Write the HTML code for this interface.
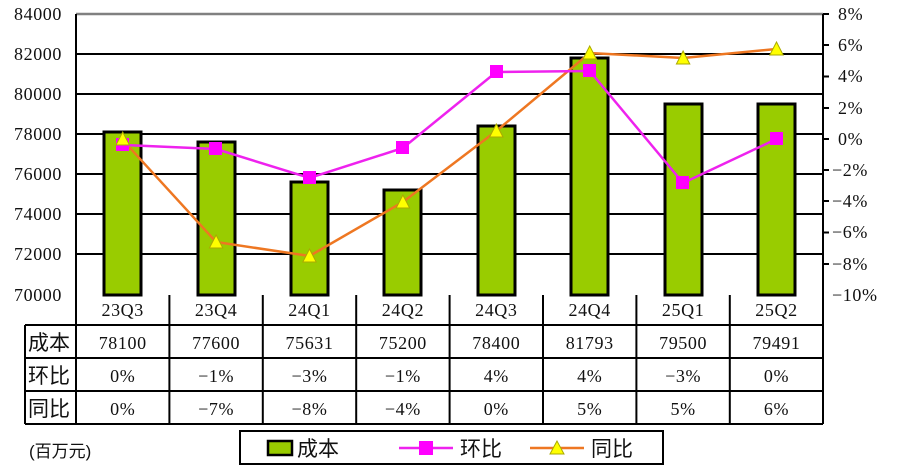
<!DOCTYPE html>
<html><head><meta charset="utf-8"><style>
html,body{margin:0;padding:0;background:#fff}
svg{display:block}
text{font-family:"Liberation Serif","Noto Serif CJK SC",serif;font-size:18px;letter-spacing:0.6px;fill:#111}
.cj{font-family:"Liberation Sans","Noto Sans CJK SC",sans-serif;font-size:21px;letter-spacing:0}
</style></head><body>
<svg width="900" height="474" viewBox="0 0 900 474" xmlns="http://www.w3.org/2000/svg">
<g stroke="#000" stroke-width="2">
<line x1="76" y1="54" x2="823" y2="54"/><line x1="76" y1="94" x2="823" y2="94"/>
<line x1="76" y1="134" x2="823" y2="134"/><line x1="76" y1="174" x2="823" y2="174"/>
<line x1="76" y1="214" x2="823" y2="214"/><line x1="76" y1="254" x2="823" y2="254"/>
</g>
<line x1="76" y1="14" x2="823" y2="14" stroke="#808080" stroke-width="2.5"/>
<line x1="76" y1="14" x2="76" y2="295" stroke="#000" stroke-width="2"/>
<line x1="823" y1="14" x2="823" y2="295" stroke="#000" stroke-width="2"/>
<g stroke="#000" stroke-width="2">
<line x1="823" y1="14" x2="829" y2="14"/><line x1="823" y1="45" x2="829" y2="45"/><line x1="823" y1="76.5" x2="829" y2="76.5"/><line x1="823" y1="108" x2="829" y2="108"/><line x1="823" y1="139" x2="829" y2="139"/><line x1="823" y1="170" x2="829" y2="170"/><line x1="823" y1="201" x2="829" y2="201"/><line x1="823" y1="232.5" x2="829" y2="232.5"/><line x1="823" y1="264" x2="829" y2="264"/>
</g>
<g fill="#99cc00" stroke="#000" stroke-width="3">
<rect x="104" y="132" width="37" height="163"/>
<rect x="198" y="142" width="37" height="153"/>
<rect x="291" y="182" width="37" height="113"/>
<rect x="384" y="190" width="37" height="105"/>
<rect x="478" y="126" width="37" height="169"/>
<rect x="571" y="58" width="37" height="237"/>
<rect x="665" y="104" width="37" height="191"/>
<rect x="758" y="104" width="37" height="191"/>
</g>
<polyline points="122.7,140 216.1,242 309.5,256 402.9,202 496.3,131 589.7,53 683.1,58 776.5,49" fill="none" stroke="#ee7722" stroke-width="2.5"/>
<polyline points="122.7,145 216.1,149 309.5,178 402.9,148 496.3,72 589.7,71 683.1,183 776.5,139" fill="none" stroke="#ee22ee" stroke-width="2.5"/>
<g fill="#ff00ff">
<rect x="116" y="138" width="13" height="13"/><rect x="209" y="142" width="13" height="13"/><rect x="303" y="171" width="13" height="13"/><rect x="396" y="141" width="13" height="13"/><rect x="490" y="65" width="13" height="13"/><rect x="583" y="64" width="13" height="13"/><rect x="676" y="176" width="13" height="13"/><rect x="770" y="132" width="13" height="13"/>
</g>
<g fill="#ffff00" stroke="#aaaa00" stroke-width="1">
<polygon points="122.7,132 116,145 129.4,145"/><polygon points="216.1,235 209.4,248 222.8,248"/><polygon points="309.5,249 302.8,262 316.2,262"/><polygon points="402.9,195 396.2,208 409.6,208"/><polygon points="496.3,124 489.6,137 503,137"/><polygon points="589.7,46 583,59 596.4,59"/><polygon points="683.1,51 676.4,64 689.8,64"/><polygon points="776.5,42 769.8,55 783.2,55"/>
</g>
<g text-anchor="end">
<text x="62" y="20">84000</text><text x="62" y="60">82000</text><text x="62" y="100">80000</text><text x="62" y="140">78000</text><text x="62" y="180">76000</text><text x="62" y="220">74000</text><text x="62" y="260">72000</text><text x="62" y="301">70000</text>
</g>
<g>
<text x="838" y="20">8%</text><text x="838" y="51">6%</text><text x="838" y="82">4%</text><text x="838" y="114">2%</text><text x="838" y="145">0%</text><text x="832" y="176">−2%</text><text x="832" y="207">−4%</text><text x="832" y="238">−6%</text><text x="832" y="270">−8%</text><text x="832" y="301">−10%</text>
</g>
<g stroke="#000" stroke-width="2" fill="none">
<line x1="76" y1="295" x2="76" y2="424"/>
<line x1="25" y1="325" x2="823" y2="325"/><line x1="25" y1="358" x2="823" y2="358"/><line x1="25" y1="391" x2="823" y2="391"/><line x1="25" y1="424" x2="823" y2="424"/>
<line x1="25" y1="325" x2="25" y2="424"/>
<line x1="169.4" y1="295" x2="169.4" y2="424"/><line x1="262.8" y1="295" x2="262.8" y2="424"/><line x1="356.2" y1="295" x2="356.2" y2="424"/><line x1="449.6" y1="295" x2="449.6" y2="424"/><line x1="543" y1="295" x2="543" y2="424"/><line x1="636.4" y1="295" x2="636.4" y2="424"/><line x1="729.8" y1="295" x2="729.8" y2="424"/><line x1="823" y1="295" x2="823" y2="424"/>
</g>
<g text-anchor="middle">
<text x="122.7" y="316">23Q3</text><text x="216.1" y="316">23Q4</text><text x="309.5" y="316">24Q1</text><text x="402.9" y="316">24Q2</text><text x="496.3" y="316">24Q3</text><text x="589.7" y="316">24Q4</text><text x="683.1" y="316">25Q1</text><text x="776.5" y="316">25Q2</text>
<text x="122.7" y="349">78100</text><text x="216.1" y="349">77600</text><text x="309.5" y="349">75631</text><text x="402.9" y="349">75200</text><text x="496.3" y="349">78400</text><text x="589.7" y="349">81793</text><text x="683.1" y="349">79500</text><text x="776.5" y="349">79491</text>
<text x="122.7" y="382">0%</text><text x="216.1" y="382">−1%</text><text x="309.5" y="382">−3%</text><text x="402.9" y="382">−1%</text><text x="496.3" y="382">4%</text><text x="589.7" y="382">4%</text><text x="683.1" y="382">−3%</text><text x="776.5" y="382">0%</text>
<text x="122.7" y="415">0%</text><text x="216.1" y="415">−7%</text><text x="309.5" y="415">−8%</text><text x="402.9" y="415">−4%</text><text x="496.3" y="415">0%</text><text x="589.7" y="415">5%</text><text x="683.1" y="415">5%</text><text x="776.5" y="415">6%</text>
</g>
<text class="cj" x="28" y="350">成本</text>
<text class="cj" x="28" y="383">环比</text>
<text class="cj" x="28" y="416">同比</text>
<text class="cj" x="29" y="457" style="font-size:17px">(百万元)</text>
<rect x="240" y="431" width="423" height="33" fill="#fff" stroke="#000" stroke-width="2"/>
<rect x="268" y="441" width="24" height="14" fill="#99cc00" stroke="#000" stroke-width="2.5"/>
<text class="cj" x="297" y="456">成本</text>
<line x1="399" y1="448" x2="453" y2="448" stroke="#ee22ee" stroke-width="2.5"/>
<rect x="419" y="441" width="14" height="14" fill="#ff00ff"/>
<text class="cj" x="460" y="456">环比</text>
<line x1="530" y1="448" x2="584" y2="448" stroke="#ee7722" stroke-width="2.5"/>
<polygon points="557,441 550,454 564,454" fill="#ffff00" stroke="#aaaa00"/>
<text class="cj" x="591" y="456">同比</text>
</svg>
</body></html>
